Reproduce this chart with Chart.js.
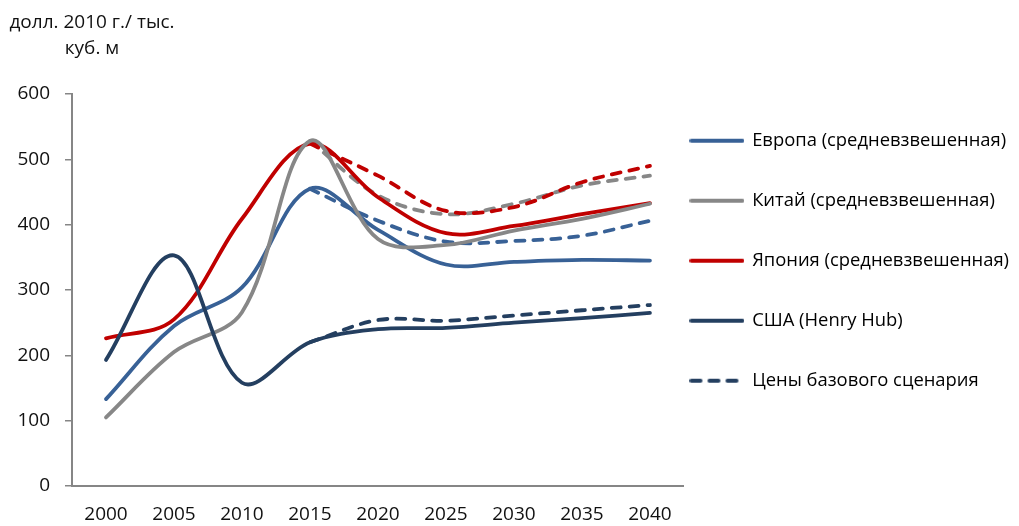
<!DOCTYPE html>
<html>
<head>
<meta charset="utf-8">
<script src="https://cdn.jsdelivr.net/npm/chart.js@4.4.0/dist/chart.umd.min.js"></script>
<style>
  body { margin: 0; background: #fff; }
  #wrap { width: 1019px; height: 526px; }
</style>
</head>
<body>
<div id="wrap"><canvas id="gasChart"></canvas></div>
<script>
let years = ["2000", "2005", "2010", "2015", "2020", "2025", "2030", "2035", "2040"]

// solid lines
let europe = [133, 245, 304, 455, 392, 339, 343, 346, 345]
let china = [105, 205, 266, 528, 378, 369, 391, 409, 432]
let japan = [226, 255, 409, 524, 442, 387, 398, 416, 433]
let usa = [193, 353, 158, 220, 240, 242, 250, 257, 265]

// base scenario (dashed), from 2015
let europeBase = [null, null, null, 455, 406, 374, 375, 383, 406]
let chinaBase = [null, null, null, 528, 445, 416, 432, 460, 475]
let japanBase = [null, null, null, 524, 475, 421, 427, 465, 490]
let usaBase = [null, null, null, 220, 254, 253, 261, 269, 277]

let names = ["Европа (средневзвешенная)", "Китай (средневзвешенная)", "Япония (средневзвешенная)", "США (Henry Hub)"]
let baseName = "Цены базового сценария"
let unitText = ["долл. 2010 г./ тыс.", "куб. м"]

let blue = "#386196"
let grey = "#878787"
let red = "#c00000"
let navy = "#243f60"
let axisGrey = "#868686"
let textColor = "#111111"

Chart.defaults.font.family = '"Open Sans", sans-serif'

// little line pictures for the legend
function lineSample(color, dashed) {
  let c = document.createElement("canvas")
  c.width = 55
  c.height = 6
  let g = c.getContext("2d")
  g.strokeStyle = color
  g.lineWidth = 4
  g.lineCap = "round"
  if (dashed) g.setLineDash([9, 9])
  g.beginPath()
  g.moveTo(2, 3)
  g.lineTo(dashed ? 47 : 53, 3)
  g.stroke()
  return c
}

let unitLabel = {
  id: "unitLabel",
  afterDraw(chart) {
    let ctx = chart.ctx
    ctx.save()
    ctx.font = '19px "Open Sans"'
    ctx.fillStyle = textColor
    ctx.textAlign = "center"
    ctx.textBaseline = "middle"
    ctx.fillText(unitText[0], 92, 23)
    ctx.fillText(unitText[1], 92, 49)
    ctx.restore()
  }
}

function solid(label, data, color, order) {
  return { label: label, data: data, borderColor: color, backgroundColor: color, borderWidth: 3.8,
    pointRadius: 0, tension: 0.35, fill: false, borderCapStyle: "round", order: order }
}
function dashed(label, data, color, order) {
  let d = solid(label, data, color, order)
  d.borderDash = [9, 9]
  return d
}

let ctx = document.getElementById("gasChart").getContext("2d")
new Chart(ctx, {
  type: "line",
  data: {
    labels: years,
    datasets: [
      solid(names[0], europe, blue, 5),
      solid(names[1], china, grey, 3),
      solid(names[2], japan, red, 4),
      solid(names[3], usa, navy, 1),
      dashed(baseName, europeBase, blue, 8),
      dashed(baseName, chinaBase, grey, 7),
      dashed(baseName, japanBase, red, 6),
      dashed(baseName, usaBase, navy, 2)
    ]
  },
  plugins: [unitLabel],
  options: {
    responsive: true,
    maintainAspectRatio: false,
    animation: false,
    layout: { padding: { top: 30, right: 0, bottom: 0, left: 0 } },
    plugins: {
      // empty title only makes room for the unit text
      title: { display: true, text: "", padding: 0, font: { size: 10, lineHeight: "64px" } },
      tooltip: { enabled: false },
      legend: {
        position: "right",
        align: "center",
        maxWidth: 420,
        onClick: null,
        labels: {
          usePointStyle: true,
          pointStyleWidth: 52,
          padding: 7,
          color: textColor,
          font: { size: 18.4, lineHeight: "53px" },
          generateLabels: function () {
            let cols = [blue, grey, red, navy]
            let items = names.map((n, i) => ({
              text: [n], pointStyle: lineSample(cols[i], false), fillStyle: cols[i],
              strokeStyle: cols[i], lineWidth: 0, hidden: false, datasetIndex: i
            }))
            items.push({ text: [baseName], pointStyle: lineSample(navy, true), fillStyle: navy,
              strokeStyle: navy, lineWidth: 0, hidden: false, datasetIndex: 7 })
            return items
          }
        }
      }
    },
    scales: {
      x: {
        type: "category",
        offset: true,
        grid: { display: false, drawTicks: false },
        border: { display: true, color: axisGrey, width: 2 },
        ticks: { color: textColor, font: { size: 19 }, padding: 17, maxRotation: 0, autoSkip: false },
        afterFit: s => { s.height = 40 }
      },
      y: {
        min: 0,
        max: 600,
        ticks: { stepSize: 100, color: textColor, font: { size: 19 }, padding: 15 },
        grid: { drawOnChartArea: false, drawTicks: true, tickLength: 7, color: axisGrey, lineWidth: 1.5 },
        border: { display: true, color: axisGrey, width: 2 },
        afterFit: s => { s.width = 72 }
      }
    }
  }
})
</script>
</body>
</html>
